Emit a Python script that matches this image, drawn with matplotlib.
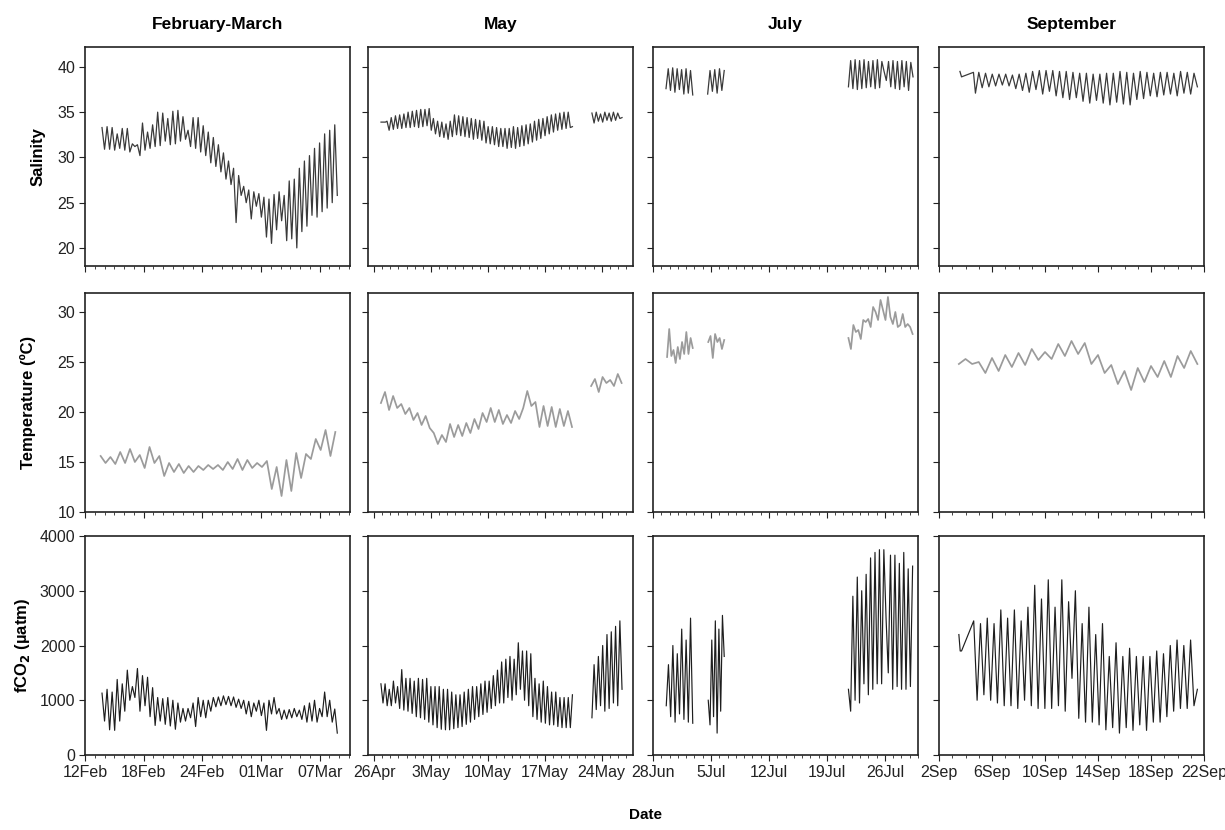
import numpy as np
import matplotlib
matplotlib.use('Agg')
import matplotlib.pyplot as plt
import matplotlib.dates as mdates
from matplotlib.ticker import FixedLocator
from matplotlib.transforms import ScaledTranslation

plt.rcParams['font.family'] = ['Liberation Sans', 'DejaVu Sans']

# ---------------- data ----------------
col_titles = ['February-March', 'May', 'July', 'September']
row_labels = ['Salinity', 'Temperature (ºC)', r'fCO$_\mathbf{2}$ (µatm)']
ref_dates = ['2008-02-12', '2008-04-26', '2008-06-28', '2008-09-02']
xlim_days = [(0.0, 27.1), (-0.74, 31.85), (0.0, 32.0), (0.0, 20.0)]
tick_dates = [
    ['2008-02-12', '2008-02-18', '2008-02-24', '2008-03-01', '2008-03-07'],
    ['2008-04-26', '2008-05-03', '2008-05-10', '2008-05-17', '2008-05-24'],
    ['2008-06-28', '2008-07-05', '2008-07-12', '2008-07-19', '2008-07-26'],
    ['2008-09-02', '2008-09-06', '2008-09-10', '2008-09-14', '2008-09-18', '2008-09-22'],
]
tick_labels = [
    ['12Feb', '18Feb', '24Feb', '01Mar', '07Mar'],
    ['26Apr', '3May', '10May', '17May', '24May'],
    ['28Jun', '5Jul', '12Jul', '19Jul', '26Jul'],
    ['2Sep', '6Sep', '10Sep', '14Sep', '18Sep', '22Sep'],
]
y_ticks = [[20, 25, 30, 35, 40], [10, 15, 20, 25, 30], [0, 1000, 2000, 3000, 4000]]
y_lims = [(18, 42.2), (10, 31.9), (0, 4000)]

# Salinity, February-March (tidal highs / lows), days 1.74 -> 25.8
sal_feb_hi = [33.3, 33.4, 33.3, 32.6, 33.2, 33.2, 31.5, 31.4, 33.8, 32.8,
              33.6, 35.0, 34.9, 34.3, 35.1, 35.2, 34.5, 33.0, 34.4, 34.4,
              33.5, 32.8, 32.2, 31.4, 30.5, 29.6, 28.8, 28.0, 26.8, 26.4,
              26.2, 26.0, 25.6, 25.4, 25.9, 26.2, 25.8, 27.4, 27.6, 28.8,
              29.6, 30.2, 31.0, 31.6, 32.6, 33.0, 33.6]
sal_feb_lo = [30.9, 30.9, 30.8, 31.0, 30.8, 30.6, 31.2, 30.2, 30.8, 31.0,
              31.2, 31.3, 31.8, 31.4, 31.5, 31.8, 32.0, 31.2, 31.0, 30.6,
              30.2, 29.4, 29.0, 28.4, 27.6, 27.0, 22.8, 25.8, 25.0, 23.2,
              24.6, 23.4, 21.2, 20.5, 22.0, 23.0, 20.8, 21.0, 20.0, 21.8,
              22.4, 23.6, 23.4, 24.0, 24.4, 25.0, 25.8]

# Salinity, May
sal_may_flat = [33.9, 33.9]
sal_may_hi = [34.0, 34.4, 34.6, 34.7, 34.8, 35.0, 35.1, 35.2, 35.3, 35.3,
              35.4, 34.3, 34.0, 33.9, 33.7, 34.0, 34.7, 34.6, 34.5, 34.4,
              34.3, 34.2, 34.1, 34.0, 33.4, 33.4, 33.3, 33.2, 33.2, 33.2,
              33.4, 33.3, 33.5, 33.6, 33.7, 34.0, 34.2, 34.3, 34.5, 34.7,
              34.8, 34.9, 35.0, 35.0]
sal_may_lo = [33.0, 33.1, 33.2, 33.2, 33.3, 33.3, 33.4, 33.3, 33.4, 33.5,
              33.0, 32.6, 32.3, 32.2, 32.0, 32.3, 32.5, 32.4, 32.3, 32.2,
              32.0, 32.1, 31.9, 31.6, 31.5, 31.4, 31.2, 31.2, 31.0, 31.1,
              31.0, 31.2, 31.3, 31.5, 31.7, 31.9, 32.1, 32.4, 32.6, 32.8,
              33.0, 33.1, 33.2, 33.3]
sal_may_end = 33.4
sal_may2_hi = [34.9, 35.0, 34.8, 35.0, 34.9, 35.0, 34.9]
sal_may2_lo = [33.8, 34.0, 33.9, 34.1, 34.0, 34.1, 34.3]
sal_may2_end = 34.4

# Salinity, July (three deployments)
sal_jul_1 = [37.6, 39.8, 37.4, 39.9, 37.2, 39.8, 37.5, 39.7, 37.0, 39.8, 37.1, 39.6, 36.9]
sal_jul_2 = [37.0, 39.6, 37.3, 39.7, 37.1, 39.8, 37.4, 39.6]
sal_jul_3 = [37.8, 40.7, 37.6, 40.8, 37.5, 40.7, 37.6, 40.8, 37.7, 40.6,
             37.8, 40.7, 37.6, 40.8, 37.7, 40.6, 39.5, 38.5, 40.6, 37.8,
             40.7, 37.6, 40.6, 37.5, 40.7, 37.8, 40.6, 37.4, 40.5, 38.9]

# Salinity, September
sal_sep_start_t = [1.58, 1.7, 2.6]
sal_sep_start = [39.5, 38.9, 39.4]
sal_sep_lo = [37.1, 37.7, 37.8, 37.9, 38.0, 37.9, 37.6, 37.4, 37.2, 37.5,
              37.0, 37.3, 36.8, 36.6, 36.4, 36.6, 36.2, 36.0, 36.3, 36.0,
              35.8, 36.1, 35.9, 35.8, 36.4, 36.5, 36.8, 36.7, 36.9, 37.0,
              36.8, 37.1, 37.0]
sal_sep_hi = [39.4, 39.3, 39.2, 39.2, 39.2, 39.1, 39.2, 39.3, 39.5, 39.6,
              39.6, 39.6, 39.5, 39.5, 39.4, 39.3, 39.3, 39.2, 39.2, 39.3,
              39.3, 39.5, 39.4, 39.3, 39.5, 39.4, 39.3, 39.4, 39.4, 39.3,
              39.5, 39.4, 39.3]
sal_sep_end = 37.8

# Temperature
temp_feb = [15.6, 14.9, 15.5, 14.8, 16.0, 14.9, 16.3, 15.0, 15.7, 14.4,
            16.5, 14.9, 15.6, 13.6, 14.9, 14.0, 14.8, 13.9, 14.6, 14.0,
            14.6, 14.2, 14.7, 14.3, 14.7, 14.2, 15.0, 14.3, 15.3, 14.2,
            15.2, 14.4, 14.9, 14.5, 15.1, 12.3, 14.5, 11.6, 15.2, 12.1,
            15.9, 13.4, 15.8, 15.3, 17.3, 16.2, 18.2, 15.6, 18.0]
temp_may_1 = [20.9, 22.0, 20.2, 21.6, 20.4, 20.8, 19.8, 20.4, 19.2, 19.9,
              18.7, 19.6, 18.4, 17.9, 16.8, 17.7, 17.0, 18.8, 17.5, 18.7,
              17.6, 18.9, 17.9, 19.3, 18.3, 19.9, 19.0, 20.4, 19.0, 20.2,
              18.8, 19.7, 18.9, 20.1, 19.3, 20.4, 22.1, 20.6, 21.0, 18.5,
              20.6, 18.6, 20.5, 18.5, 20.3, 18.6, 20.1, 18.5]
temp_may_2 = [22.6, 23.3, 22.0, 23.5, 22.9, 23.2, 22.6, 23.8, 22.9]
temp_jul_1 = [25.5, 28.3, 25.6, 26.2, 24.9, 26.5, 25.3, 27.0, 25.8, 28.0, 25.8, 27.4, 26.4]
temp_jul_2 = [27.0, 27.6, 25.4, 27.8, 27.0, 27.4, 26.3, 27.2]
temp_jul_3 = [27.4, 26.3, 28.7, 28.0, 28.2, 27.3, 29.2, 29.0, 29.3, 28.5,
              30.5, 30.0, 29.2, 31.2, 30.2, 29.2, 31.5, 29.5, 28.8, 30.0,
              28.5, 28.7, 29.8, 28.5, 28.8, 28.5, 27.8]
temp_sep = [24.8, 25.3, 24.8, 25.0, 23.9, 25.4, 24.1, 25.7, 24.5, 25.9,
            24.7, 26.3, 25.2, 26.0, 25.3, 26.8, 25.6, 27.1, 25.8, 26.9,
            24.8, 25.7, 23.9, 24.7, 22.8, 24.1, 22.2, 24.4, 23.0, 24.6,
            23.5, 25.1, 23.5, 25.6, 24.4, 26.1, 24.8]

# fCO2
fco2_feb_hi = [1130, 1200, 1150, 1380, 1300, 1550, 1250, 1580, 1450, 1420,
               1230, 1050, 1030, 1050, 1000, 950, 850, 850, 950, 1050,
               1000, 1000, 1050, 1060, 1080, 1070, 1060, 1020, 1000, 980,
               950, 1000, 950, 1000, 1050, 850, 820, 830, 850, 820,
               900, 950, 1000, 850, 1150, 1000, 840]
fco2_feb_lo = [620, 460, 450, 620, 800, 1000, 1050, 800, 900, 700,
               540, 620, 560, 530, 470, 600, 620, 680, 520, 700,
               680, 800, 880, 900, 920, 900, 870, 850, 750, 700,
               800, 720, 450, 750, 750, 650, 660, 680, 700, 650,
               600, 620, 600, 700, 700, 600, 400]
fco2_may_hi = [1300, 1300, 1200, 1350, 1250, 1560, 1400, 1400, 1350, 1400,
               1380, 1400, 1250, 1250, 1250, 1200, 1200, 1150, 1100, 1100,
               1150, 1200, 1250, 1250, 1300, 1350, 1350, 1450, 1550, 1700,
               1750, 1800, 1750, 2050, 1900, 1900, 1850, 1400, 1300, 1350,
               1250, 1150, 1150, 1050, 1050, 1050]
fco2_may_lo = [950, 900, 900, 950, 850, 820, 800, 760, 700, 680,
               650, 600, 550, 500, 470, 460, 460, 480, 500, 520,
               560, 600, 650, 700, 740, 780, 850, 900, 950, 950,
               1050, 1000, 1100, 1200, 1000, 900, 700, 650, 600, 580,
               550, 550, 520, 500, 500, 500]
fco2_may_end = 1100
fco2_may_2 = [680, 1650, 830, 1800, 900, 2000, 800, 2200, 850, 2250, 950, 2350, 900, 2450, 1200]
fco2_jul_1 = [900, 1650, 700, 2000, 600, 1850, 750, 2300, 650, 2100, 600, 2500, 580]
fco2_jul_2 = [1000, 550, 2100, 700, 2450, 400, 2300, 800, 2550, 1800]
fco2_jul_3 = [1200, 800, 2900, 1000, 3250, 950, 3000, 1300, 3300, 1100,
              3600, 1200, 3700, 1300, 3750, 1300, 3750, 2500, 1500, 3650,
              1200, 3650, 1250, 3500, 1200, 3700, 1200, 3400, 1250, 3450]
fco2_sep_start_t = [1.5, 1.6, 1.7]
fco2_sep_start = [2200, 1900, 1900]
fco2_sep = [2450, 1000, 2400, 1100, 2500, 1000, 2400, 950, 2650, 900,
            2500, 900, 2650, 850, 2450, 1000, 2700, 900, 3100, 850,
            2850, 850, 3200, 850, 2700, 900, 3200, 800, 2800, 1400,
            3000, 670, 2400, 600, 2700, 600, 2200, 550, 2400, 460,
            1800, 500, 2050, 400, 1800, 500, 1950, 450, 1800, 550,
            1800, 450, 1800, 600, 1900, 600, 1850, 700, 2000, 800,
            2100, 850, 2000, 850, 2100, 900, 1200]


def interleave(a, b):
    out = []
    for x, y in zip(a, b):
        out.extend([x, y])
    return out


# (row, col) -> list of segments: (times in days, values)
segments = {}
v = interleave(sal_feb_hi, sal_feb_lo)
segments[(0, 0)] = [(np.linspace(1.74, 25.8, len(v)), v)]
v = interleave(sal_may_hi, sal_may_lo) + [sal_may_end]
t = np.concatenate([np.linspace(0.86, 1.4, len(sal_may_flat)), np.linspace(1.6, 24.4, len(v))])
segments[(0, 1)] = [(t, sal_may_flat + v)]
v2 = interleave(sal_may2_hi, sal_may2_lo) + [sal_may2_end]
segments[(0, 1)].append((np.linspace(26.8, 30.5, len(v2)), v2))
segments[(0, 2)] = [(np.linspace(1.57, 4.8, len(sal_jul_1)), sal_jul_1),
                    (np.linspace(6.6, 8.6, len(sal_jul_2)), sal_jul_2),
                    (np.linspace(23.6, 31.4, len(sal_jul_3)), sal_jul_3)]
v = interleave(sal_sep_lo, sal_sep_hi) + [sal_sep_end]
t = np.concatenate([sal_sep_start_t, np.linspace(2.75, 19.5, len(v))])
segments[(0, 3)] = [(t, sal_sep_start + v)]

segments[(1, 0)] = [(np.linspace(1.6, 25.6, len(temp_feb)), temp_feb)]
segments[(1, 1)] = [(np.linspace(0.85, 24.35, len(temp_may_1)), temp_may_1),
                    (np.linspace(26.7, 30.45, len(temp_may_2)), temp_may_2)]
segments[(1, 2)] = [(np.linspace(1.7, 4.8, len(temp_jul_1)), temp_jul_1),
                    (np.linspace(6.67, 8.6, len(temp_jul_2)), temp_jul_2),
                    (np.linspace(23.6, 31.35, len(temp_jul_3)), temp_jul_3)]
segments[(1, 3)] = [(np.linspace(1.5, 19.5, len(temp_sep)), temp_sep)]

v = interleave(fco2_feb_hi, fco2_feb_lo)
segments[(2, 0)] = [(np.linspace(1.74, 25.8, len(v)), v)]
v = interleave(fco2_may_hi, fco2_may_lo) + [fco2_may_end]
segments[(2, 1)] = [(np.linspace(0.85, 24.4, len(v)), v),
                    (np.linspace(26.8, 30.5, len(fco2_may_2)), fco2_may_2)]
segments[(2, 2)] = [(np.linspace(1.6, 4.8, len(fco2_jul_1)), fco2_jul_1),
                    (np.linspace(6.67, 8.6, len(fco2_jul_2)), fco2_jul_2),
                    (np.linspace(23.6, 31.35, len(fco2_jul_3)), fco2_jul_3)]
t = np.concatenate([fco2_sep_start_t, np.linspace(2.62, 19.5, len(fco2_sep))])
segments[(2, 3)] = [(t, fco2_sep_start + fco2_sep)]

row_style = [dict(color='#3a3a3a', lw=0.9),
             dict(color='#9b9b9b', lw=1.25),
             dict(color='#1e1e1e', lw=0.85)]

# ---------------- layout ----------------
W, H = 1225, 830
fig = plt.figure(figsize=(W / 100, H / 100), dpi=100)
col_left = [85, 368, 653, 939]
ax_w = 265
row_top = [47, 293, 536]
ax_h = 219

shift = ScaledTranslation(-4 / 100, 0, fig.dpi_scale_trans)

for r in range(3):
    for c in range(4):
        ax = fig.add_axes([col_left[c] / W, 1 - (row_top[r] + ax_h) / H, ax_w / W, ax_h / H])
        ref = mdates.datestr2num(ref_dates[c])
        for (tt, vv) in segments[(r, c)]:
            ax.plot(ref + np.asarray(tt), vv, **row_style[r])
        ax.set_xlim(ref + xlim_days[c][0], ref + xlim_days[c][1])
        ax.set_ylim(*y_lims[r])
        ax.set_yticks(y_ticks[r])
        ticks = [mdates.datestr2num(d) for d in tick_dates[c]]
        ax.xaxis.set_major_locator(FixedLocator(ticks))
        ax.xaxis.set_minor_locator(mdates.DayLocator())
        if r == 2:
            ax.set_xticklabels(tick_labels[c])
            for lab in ax.get_xticklabels():
                lab.set_transform(lab.get_transform() + shift)
        else:
            ax.set_xticklabels([])
        if c != 0:
            ax.set_yticklabels([])
        ax.tick_params(which='major', direction='out', length=4, width=0.8,
                       labelsize=11.5, pad=3, colors='#222222')
        ax.tick_params(which='minor', direction='out', length=2.2, width=0.7, colors='#444444')
        for s in ax.spines.values():
            s.set_linewidth(1.2)
            s.set_color('#222222')
        if r == 0:
            ax.set_title(col_titles[c], fontsize=12.5, fontweight='bold', pad=13)

label_x = [38, 28, 23]
for r in range(3):
    yc = 1 - (row_top[r] + ax_h / 2) / H
    fig.text(label_x[r] / W, yc, row_labels[r], rotation=90, ha='center', va='center',
             fontsize=12, fontweight='bold')

fig.text(645 / W, 1 - 815 / H, 'Date', ha='center', va='center', fontsize=11, fontweight='bold')

fig.savefig('out.png', dpi=100)
